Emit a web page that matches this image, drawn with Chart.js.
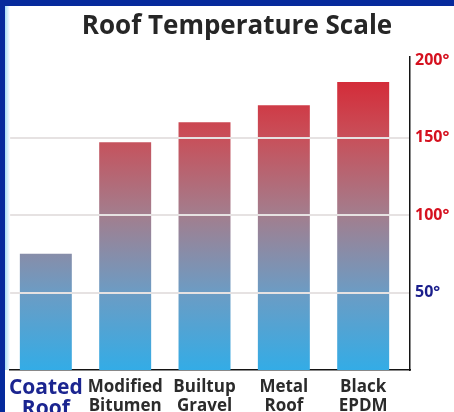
<!DOCTYPE html>
<html>
<head>
<meta charset="utf-8">
<script src="https://cdn.jsdelivr.net/npm/chart.js@4.4.1/dist/chart.umd.min.js"></script>
<style>
  html, body { margin: 0; padding: 0; background: #ffffff; }
  #frame { position: relative; width: 454px; height: 412px; overflow: hidden; background: #ffffff; }
  #edgeTop { position: absolute; left: 0; top: 0; width: 454px; height: 6px; background: #062a9c; }
  #edgeLeft { position: absolute; left: 0; top: 0; width: 5px; height: 412px; background: #062a9c; }
  #edgeGlow { position: absolute; left: 5px; top: 6px; width: 5px; height: 364px;
              background: linear-gradient(to right, #a6dcf6, #ffffff); }
  #wrap { position: absolute; left: 0; top: 0; width: 464px; height: 412px; }
</style>
</head>
<body>
<div id="frame">
  <div id="edgeTop"></div>
  <div id="edgeLeft"></div>
  <div id="edgeGlow"></div>
  <div id="wrap"><canvas id="roofChart"></canvas></div>
</div>
<script>
// Roofing materials and their surface temperatures (°F)
const categories = ['Coated Roof', 'Modified Bitumen', 'Builtup Gravel', 'Metal Roof', 'Black EPDM'];
const temperatures = [75, 147, 160, 171, 186];
const tempTicks = [50, 100, 150, 200];

const FONT = "'Open Sans', 'DejaVu Sans', sans-serif";

// Vertical blue-to-red fill tied to the temperature scale
function heatFill(context) {
  const chart = context.chart;
  if (!chart.chartArea) return '#8a8aa0';
  const y = chart.scales.y;
  const g = chart.ctx.createLinearGradient(0, y.getPixelForValue(0), 0, y.getPixelForValue(200));
  g.addColorStop(0.00, '#33ace6');
  g.addColorStop(0.25, '#6c9cc4');
  g.addColorStop(0.50, '#a27e8e');
  g.addColorStop(0.75, '#c8505a');
  g.addColorStop(1.00, '#d81e2c');
  return g;
}

new Chart(document.getElementById('roofChart'), {
  type: 'bar',
  data: {
    datasets: [{
      data: categories.map((c, i) => ({ x: i, y: temperatures[i] })),
      backgroundColor: heatFill,
      borderWidth: 0,
      barPercentage: 0.655,
      categoryPercentage: 1.0
    }]
  },
  options: {
    responsive: true,
    maintainAspectRatio: false,
    animation: false,
    layout: { padding: { left: 10, right: 0, top: 0, bottom: 0 } },
    plugins: {
      legend: { display: false },
      tooltip: { enabled: false },
      title: {
        display: true,
        text: 'Roof Temperature Scale',
        color: '#262626',
        font: { family: FONT, size: 26, weight: 'bold' },
        padding: { top: 11, bottom: 15 }
      }
    },
    scales: {
      x: {
        type: 'linear',
        offset: false,
        min: -0.45,
        max: 4.59,
        afterBuildTicks: (scale) => { scale.ticks = categories.map((c, i) => ({ value: i })); },
        afterFit: (scale) => { scale.height = 42; },
        grid: { display: false, drawTicks: false },
        border: { display: true, color: '#141414', width: 1.5 },
        ticks: {
          padding: 8,
          maxRotation: 0,
          autoSkip: false,
          callback: (v) => (categories[v] ? categories[v].split(' ') : ''),
          color: (ctx) => (ctx.index === 0 ? '#1b2590' : '#2b2b2b'),
          font: (ctx) => (ctx.index === 0
            ? { family: FONT, size: 21, weight: 'bold', lineHeight: 1.0 }
            : { family: FONT, size: 17, weight: 'bold', lineHeight: 1.1 })
        }
      },
      y: {
        type: 'linear',
        position: 'right',
        min: 0,
        max: 202,
        afterBuildTicks: (scale) => { scale.ticks = tempTicks.map(v => ({ value: v })); },
        afterFit: (scale) => { scale.width = 54; },
        grid: {
          z: 1,
          drawTicks: false,
          lineWidth: 2,
          color: (ctx) => (ctx.tick && ctx.tick.value === 200 ? 'rgba(0,0,0,0)' : '#e6e2e2')
        },
        border: { display: true, z: 1, color: '#141414', width: 1.5 },
        ticks: {
          padding: 5,
          callback: (v) => v + '°',
          color: (ctx) => (ctx.tick && ctx.tick.value === 50 ? '#1b1f8c' : '#d5111f'),
          font: { family: FONT, size: 16, weight: 'bold' }
        }
      }
    }
  }
});
</script>
</body>
</html>
